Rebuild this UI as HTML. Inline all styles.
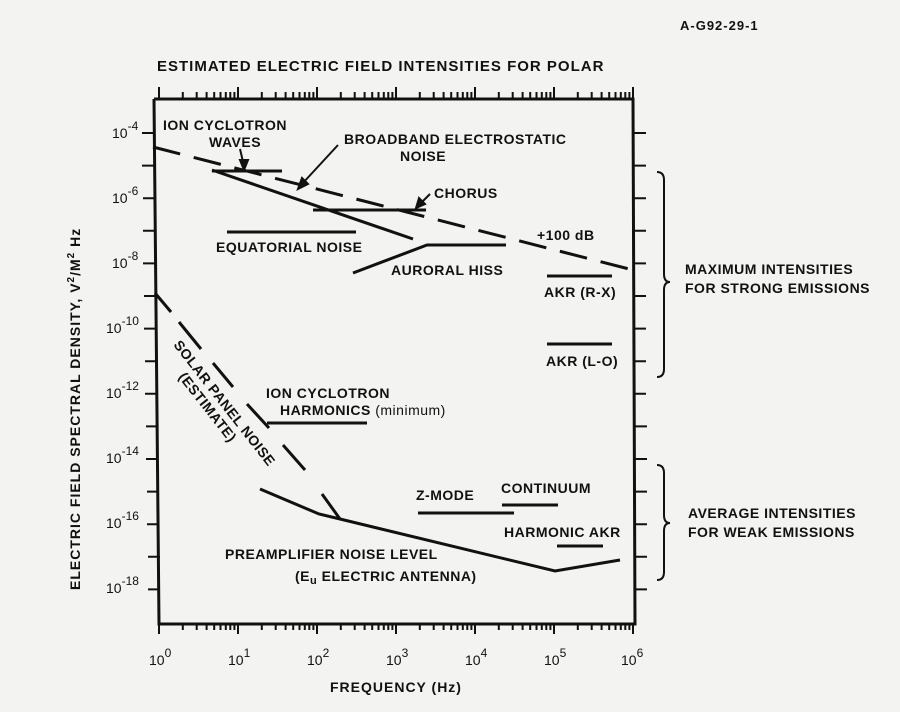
<!DOCTYPE html>
<html><head><style>
body{margin:0;background:#f3f3f1;}
svg text{font-family:"Liberation Sans",sans-serif;fill:#111;}
</style></head><body>
<svg width="900" height="707" viewBox="0 0 900 707" xmlns="http://www.w3.org/2000/svg">
<rect width="900" height="707" fill="#f3f3f1"/>
<text x="680" y="30" font-size="13" font-weight="bold" letter-spacing="1">A-G92-29-1</text>
<text x="157" y="71" font-size="15" font-weight="bold" letter-spacing="1">ESTIMATED ELECTRIC FIELD INTENSITIES FOR POLAR</text>
<g stroke="#111" fill="none" stroke-width="3">
<polyline points="154,99 633,99 635,624 159,624 154,99"/>
</g>
<g stroke="#111" stroke-width="2" fill="none">
<path d="M159,99v-12M238,99v-12M317,99v-12M396,99v-12M475,99v-12M554,99v-12M633,99v-12
M159,624v10M238,624v10M317,624v10M396,624v10M475,624v10M554,624v10M633,624v10"/>
<path d="M182.8,99v-7M196.7,99v-7M206.6,99v-7M214.2,99v-7M220.5,99v-7M225.8,99v-7M230.3,99v-7M234.4,99v-7
M261.8,99v-7M275.7,99v-7M285.6,99v-7M293.2,99v-7M299.5,99v-7M304.8,99v-7M309.3,99v-7M313.4,99v-7
M340.8,99v-7M354.7,99v-7M364.6,99v-7M372.2,99v-7M378.5,99v-7M383.8,99v-7M388.3,99v-7M392.4,99v-7
M419.8,99v-7M433.7,99v-7M443.6,99v-7M451.2,99v-7M457.5,99v-7M462.8,99v-7M467.3,99v-7M471.4,99v-7
M498.8,99v-7M512.7,99v-7M522.6,99v-7M530.2,99v-7M536.5,99v-7M541.8,99v-7M546.3,99v-7M550.4,99v-7
M577.8,99v-7M591.7,99v-7M601.6,99v-7M609.2,99v-7M615.5,99v-7M620.8,99v-7M625.3,99v-7M629.4,99v-7
M182.8,624v6M196.7,624v6M206.6,624v6M214.2,624v6M220.5,624v6M225.8,624v6M230.3,624v6M234.4,624v6
M261.8,624v6M275.7,624v6M285.6,624v6M293.2,624v6M299.5,624v6M304.8,624v6M309.3,624v6M313.4,624v6
M340.8,624v6M354.7,624v6M364.6,624v6M372.2,624v6M378.5,624v6M383.8,624v6M388.3,624v6M392.4,624v6
M419.8,624v6M433.7,624v6M443.6,624v6M451.2,624v6M457.5,624v6M462.8,624v6M467.3,624v6M471.4,624v6
M498.8,624v6M512.7,624v6M522.6,624v6M530.2,624v6M536.5,624v6M541.8,624v6M546.3,624v6M550.4,624v6
M577.8,624v6M591.7,624v6M601.6,624v6M609.2,624v6M615.5,624v6M620.8,624v6M625.3,624v6M629.4,624v6"/>
<path d="M142,133h12M142,165.6h12M143,198.2h12M143,230.8h12M143,263.4h12M144,296h12M144,328.6h12M145,361.2h12M145,393.8h12M146,426.4h12M146,459h12M147,491.6h12M147,524.2h12M148,556.8h12M148,589.4h12
M634,133h12M634,165.6h12M634,198.2h12M634,230.8h12M634,263.4h12M634,296h12M634,328.6h12M634,361.2h12M634,393.8h12M635,426.4h12M635,459h12M635,491.6h12M635,524.2h12M635,556.8h12M635,589.4h12"/>
</g>
<g font-size="14">
<text x="112" y="138">10<tspan dy="-8" font-size="12">-4</tspan></text>
<text x="112" y="203">10<tspan dy="-8" font-size="12">-6</tspan></text>
<text x="112" y="268">10<tspan dy="-8" font-size="12">-8</tspan></text>
<text x="106" y="333">10<tspan dy="-8" font-size="12">-10</tspan></text>
<text x="106" y="398">10<tspan dy="-8" font-size="12">-12</tspan></text>
<text x="106" y="463">10<tspan dy="-8" font-size="12">-14</tspan></text>
<text x="106" y="528">10<tspan dy="-8" font-size="12">-16</tspan></text>
<text x="106" y="593">10<tspan dy="-8" font-size="12">-18</tspan></text>
</g>
<g font-size="14">
<text x="149" y="665">10<tspan dy="-8" font-size="12">0</tspan></text>
<text x="228" y="665">10<tspan dy="-8" font-size="12">1</tspan></text>
<text x="307" y="665">10<tspan dy="-8" font-size="12">2</tspan></text>
<text x="386" y="665">10<tspan dy="-8" font-size="12">3</tspan></text>
<text x="465" y="665">10<tspan dy="-8" font-size="12">4</tspan></text>
<text x="544" y="665">10<tspan dy="-8" font-size="12">5</tspan></text>
<text x="621" y="665">10<tspan dy="-8" font-size="12">6</tspan></text>
</g>
<text x="330" y="692" font-size="14" font-weight="bold" letter-spacing="1">FREQUENCY (Hz)</text>
<text transform="translate(80,590) rotate(-90)" font-size="14" font-weight="bold" letter-spacing="1">ELECTRIC FIELD SPECTRAL DENSITY, V<tspan dy="-6" font-size="10">2</tspan><tspan dy="6">/M</tspan><tspan dy="-6" font-size="10">2</tspan><tspan dy="6"> Hz</tspan></text>
<g stroke="#111" stroke-width="3" fill="none">
<line x1="153" y1="147" x2="633" y2="270" stroke-dasharray="28,14"/>
<line x1="212" y1="170" x2="413" y2="239"/>
<line x1="212" y1="171" x2="282" y2="171"/>
<line x1="313" y1="210" x2="426" y2="210"/>
<line x1="227" y1="232" x2="356" y2="232"/>
<polyline points="353,273 427,245 506,245"/>
<line x1="547" y1="276" x2="612" y2="276"/>
<line x1="547" y1="344" x2="612" y2="344"/>
<line x1="267" y1="423" x2="367" y2="423"/>
<line x1="155" y1="293" x2="171" y2="312"/>
<line x1="179" y1="322" x2="201" y2="349"/>
<line x1="213" y1="363" x2="233" y2="387"/>
<line x1="247" y1="404" x2="269" y2="428"/>
<line x1="283" y1="445" x2="305" y2="470"/>
<line x1="322" y1="494" x2="340" y2="519"/>
<polyline points="260,489 319,514 340,519 555,571 620,560"/>
<line x1="418" y1="513" x2="514" y2="513"/>
<line x1="502" y1="505" x2="558" y2="505"/>
<line x1="557" y1="546" x2="603" y2="546"/>
</g>
<g stroke="#111" stroke-width="2" fill="#111">
<line x1="240" y1="149" x2="244" y2="166"/><polygon points="244,170 240,160 248,160"/>
<line x1="338" y1="145" x2="302" y2="184"/><polygon points="298,189 302,178 308,184"/>
<line x1="430" y1="194" x2="420" y2="204"/><polygon points="416,208 419,198 425,204"/>
</g>
<g font-size="14" font-weight="bold" letter-spacing="0.5">
<text x="163" y="130">ION CYCLOTRON</text>
<text x="209" y="147">WAVES</text>
<text x="344" y="144">BROADBAND ELECTROSTATIC</text>
<text x="400" y="161">NOISE</text>
<text x="434" y="198">CHORUS</text>
<text x="537" y="240">+100 dB</text>
<text x="216" y="252">EQUATORIAL NOISE</text>
<text x="391" y="275">AURORAL HISS</text>
<text x="544" y="297">AKR (R-X)</text>
<text x="546" y="366">AKR (L-O)</text>
<text x="266" y="398">ION CYCLOTRON</text>
<text x="280" y="415">HARMONICS <tspan font-weight="normal">(minimum)</tspan></text>
<text x="416" y="500">Z-MODE</text>
<text x="501" y="493">CONTINUUM</text>
<text x="504" y="537">HARMONIC AKR</text>
<text x="225" y="559">PREAMPLIFIER NOISE LEVEL</text>
<text x="295" y="581">(E<tspan font-size="11" dy="3">u</tspan><tspan dy="-3"> ELECTRIC ANTENNA)</tspan></text>
<text transform="translate(173,345) rotate(52)">SOLAR PANEL NOISE</text>
<text transform="translate(178,377) rotate(52)">(ESTIMATE)</text>
<text x="685" y="274">MAXIMUM INTENSITIES</text>
<text x="685" y="293">FOR STRONG EMISSIONS</text>
<text x="688" y="518">AVERAGE INTENSITIES</text>
<text x="688" y="537">FOR WEAK EMISSIONS</text>
</g>
<g stroke="#111" stroke-width="2" fill="none">
<path d="M657,172 Q664,172 664,180 L664,274 Q664,282 670,282 Q664,282 664,290 L664,369 Q664,377 657,377"/>
<path d="M657,465 Q664,465 664,473 L664,515 Q664,523 670,523 Q664,523 664,531 L664,572 Q664,580 657,580"/>
</g>
</svg>
</body></html>
